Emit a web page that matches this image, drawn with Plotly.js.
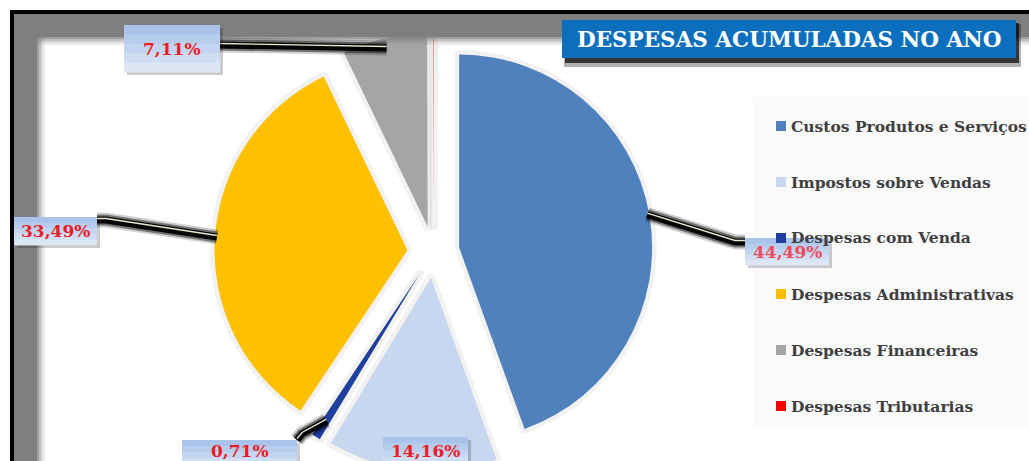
<!DOCTYPE html>
<html><head><meta charset="utf-8">
<script src="https://cdn.plot.ly/plotly-3.0.1.min.js"></script>
<style>html,body{margin:0;padding:0;overflow:hidden;background:#fff;width:1029px;height:461px}#chart{width:1029px;height:520px}</style>
</head><body><div id="chart"></div>
<script>
// ---- data ----
const categories = ['Custos Produtos e Serviços','Impostos sobre Vendas','Despesas com Venda','Despesas Administrativas','Despesas Financeiras','Despesas Tributarias'];
const shares = [44.49, 14.16, 0.71, 33.49, 7.11, 0.04];
const sliceColors = ['#4f81bd','#c6d7ef','#1f3f9f','#ffc000','#a5a5a5','#ff0000'];
const chartTitle = 'DESPESAS ACUMULADAS NO ANO';

// ---- layout geometry ----
const W = 1029, H = 520;
const PULL = 0.135;
const dom = {x:[214.5/W, 652.5/W], y:[1-471/H, 1-33/H]};
const boxW = W*(dom.x[1]-dom.x[0]), boxH = H*(dom.y[1]-dom.y[0]);
const R = Math.min(boxW, boxH)/(2+2*PULL);
const CX = W*(dom.x[0]+dom.x[1])/2, CY = H*(1-dom.y[0]) - boxH/2;
const total = shares.reduce((a,b)=>a+b,0);
let acc = 0;
const mids = shares.map(v=>{const m=(acc+v/2)/total*2*Math.PI; acc+=v; return m;});
function slicePoint(i,k){
  const a = mids[i];
  const ox = CX + PULL*R*Math.sin(a), oy = CY - PULL*R*Math.cos(a);
  return [ox + k*R*Math.sin(a), oy - k*R*Math.cos(a)];
}
const px = x => x/W, py = y => 1 - y/H;
const fmt = v => v.toFixed(2).replace('.', ',') + '%';

const shapes = [];
const annotations = [];
function rect(x0,y0,x1,y1,fill,layer,opacity){
  shapes.push({type:'rect',xref:'paper',yref:'paper',x0:px(x0),x1:px(x1),y0:py(y1),y1:py(y0),
    fillcolor:fill,line:{width:0},layer:layer||'above',opacity:opacity==null?1:opacity});
}
function path(pts,color,width){
  const d = pts.map((p,j)=>(j?'L':'M')+px(p[0])+','+py(p[1])).join(' ');
  shapes.push({type:'path',xref:'paper',yref:'paper',path:d,line:{color:color,width:width},layer:'above'});
}

// legend background
rect(753,97,W,428,'#fafafa','below');

// frame (top and left visible parts)
rect(14,14,W,37,'#7f7f7f');
rect(14,14,37,H,'#7f7f7f');
[[37,39,0.75],[39,41,0.5],[41,43,0.28],[43,45,0.12]].forEach(s=>{
  rect(37,s[0],W,s[1],'#7f7f7f','above',s[2]);
  rect(s[0],37,s[1],H,'#7f7f7f','above',s[2]);
});
rect(10,10,W,14,'#000000');
rect(10,10,14,H,'#000000');

// title box
rect(564,24,1021,67,'#000000','above',0.3);
rect(565,23,1019,63,'#000000','above',0.7);
rect(562,20,1016,58,'#0b6fbd');
annotations.push({xref:'paper',yref:'paper',x:px(789),y:py(40),xanchor:'center',yanchor:'middle',showarrow:false,
  text:chartTitle,font:{family:'DejaVu Serif',size:21.5,color:'#ffffff',weight:700}});

// data labels with callouts
const labels = [
  {i:4, box:[124,25,220,72], lead:[[220,45]], k:0.95},
  {i:3, box:[14,217,97,245], lead:[[97,220],[106,220]], k:0.99},
  {i:0, box:[745,238,829,265], lead:[[745,242],[735,242]], k:0.99, color:'#f04a5c'},
  {i:2, box:[182,440,297,470], lead:[[297,440],[302,434]], k:0.9, ty:451},
  {i:1, box:[383,437,468,470], lead:null, ty:451}
];
const grad = ['#a9c3ea','#b6cdee','#c3d6f1','#d0def3','#dce6f5'];
labels.forEach(L=>{
  const [x0,y0,x1,y1] = L.box;
  if(L.lead){
    const end = slicePoint(L.i, L.k);
    const pts = L.lead.concat([end]);
    path(pts,'rgba(0,0,0,0.18)',15);
    path(pts,'rgba(0,0,0,0.45)',11);
    path(pts,'rgba(0,0,0,0.95)',7);
    path(pts.map(p=>[p[0],p[1]-1.5]),'#ebe6d0',1.4);
  }
  rect(x0+3,y0+3,x1+3,y1+3,'#000000','above',0.2);
  const n = grad.length, h = (y1-y0)/n;
  grad.forEach((c,j)=>rect(x0,y0+j*h,x1,y0+(j+1)*h+0.5,c));
  annotations.push({xref:'paper',yref:'paper',x:px((x0+x1)/2),y:py(L.ty||(y0+y1)/2),xanchor:'center',yanchor:'middle',
    showarrow:false,text:fmt(shares[L.i]),font:{family:'DejaVu Serif',size:17,color:L.color||'#ee1c25',weight:700}});
});

// legend (manual, to match spacing)
categories.forEach((c,i)=>{
  const yc = 126 + 56*i;
  rect(776,yc-5,786,yc+5,sliceColors[i]);
  annotations.push({xref:'paper',yref:'paper',x:px(789),y:py(yc),xanchor:'left',yanchor:'middle',showarrow:false,
    text:c,font:{family:'DejaVu Serif',size:15.5,color:'#404040',weight:700}});
});

const common = {type:'pie', labels:categories, values:shares, sort:false, direction:'clockwise', rotation:0,
  pull:shares.map(()=>PULL), textinfo:'none', domain:dom, showlegend:false, hoverinfo:'skip'};
const shadow = Object.assign({}, common, {marker:{colors:shares.map(()=>'rgba(0,0,0,0.06)'), line:{color:'rgba(0,0,0,0.05)', width:9}}});
const trace = Object.assign({}, common, {marker:{colors:sliceColors, line:{color:'rgba(255,255,255,0)', width:0}}, hoverinfo:'label+percent'});
Plotly.newPlot('chart',[shadow, trace],{
  width:W,height:H,margin:{l:0,r:0,t:0,b:0},paper_bgcolor:'#ffffff',showlegend:false,
  shapes:shapes,annotations:annotations
},{staticPlot:true});
</script></body></html>
